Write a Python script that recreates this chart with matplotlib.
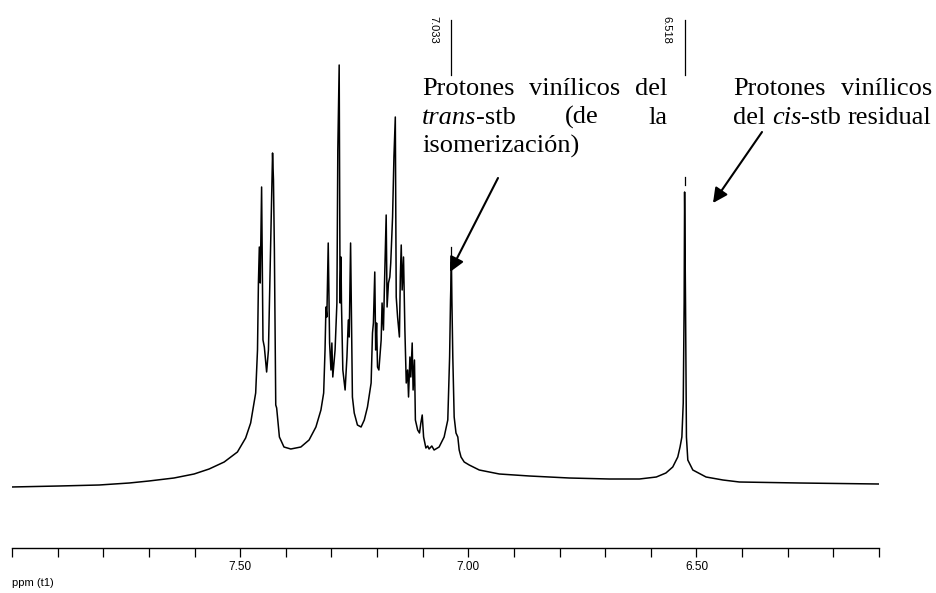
import matplotlib
matplotlib.use("Agg")
import matplotlib.pyplot as plt
from matplotlib.transforms import IdentityTransform

# 1H NMR trace: chemical shift (ppm) and intensity (a.u.)
ppm = [8.002, 7.897, 7.809, 7.743, 7.700, 7.645, 7.601, 7.568, 7.535, 7.506,
       7.488, 7.477, 7.466, 7.462, 7.460, 7.458, 7.456, 7.453, 7.450, 7.447,
       7.442, 7.438, 7.434, 7.429, 7.427, 7.425, 7.422, 7.420, 7.414, 7.404,
       7.389, 7.367, 7.349, 7.334, 7.323, 7.317, 7.314, 7.312, 7.310, 7.307,
       7.304, 7.301, 7.299, 7.297, 7.292, 7.288, 7.286, 7.283, 7.281, 7.279,
       7.278, 7.275, 7.270, 7.266, 7.263, 7.261, 7.258, 7.256, 7.254, 7.250,
       7.243, 7.235, 7.228, 7.221, 7.213, 7.210, 7.208, 7.205, 7.203, 7.201,
       7.199, 7.196, 7.191, 7.189, 7.186, 7.184, 7.180, 7.178, 7.175, 7.172,
       7.170, 7.166, 7.163, 7.160, 7.158, 7.155, 7.151, 7.149, 7.147, 7.145,
       7.142, 7.139, 7.136, 7.133, 7.131, 7.128, 7.126, 7.123, 7.121, 7.118,
       7.116, 7.111, 7.107, 7.104, 7.101, 7.098, 7.093, 7.089, 7.086, 7.080,
       7.075, 7.064, 7.053, 7.045, 7.041, 7.039, 7.037, 7.036, 7.034, 7.031,
       7.027, 7.023, 7.020, 7.016, 7.009, 6.998, 6.976, 6.932, 6.866, 6.779,
       6.691, 6.625, 6.588, 6.567, 6.552, 6.541, 6.536, 6.532, 6.529, 6.527,
       6.526, 6.524, 6.522, 6.519, 6.508, 6.479, 6.442, 6.406, 6.274, 6.101]
intensity = [0, 1, 2, 4, 6, 9, 13, 18, 25, 35,
             49, 64, 94, 137, 204, 240, 204, 300, 147, 140,
             115, 137, 224, 334, 307, 237, 82, 79, 50, 40,
             38, 40, 47, 60, 77, 94, 137, 180, 170, 244,
             144, 117, 144, 110, 137, 184, 337, 422, 184, 230,
             184, 117, 97, 130, 167, 150, 244, 164, 90, 74,
             62, 60, 67, 80, 104, 154, 164, 215, 137, 164,
             120, 117, 147, 184, 157, 197, 272, 180, 204, 210,
             224, 270, 330, 370, 190, 170, 150, 210, 242, 197,
             230, 157, 104, 117, 90, 130, 110, 144, 97, 127,
             67, 57, 54, 64, 72, 50, 39, 41, 38, 41,
             37, 40, 50, 67, 130, 187, 225, 187, 130, 70,
             54, 50, 37, 30, 25, 22, 17, 13, 11, 9,
             8, 8, 10, 14, 20, 30, 40, 50, 84, 184,
             295, 184, 50, 27, 17, 10, 7, 5, 4, 3]

# picked peaks
peak_labels = ["7.033", "6.518"]
peak_ppm = [7.037, 6.526]
peak_top = [225, 295]

major_ticks = [7.50, 7.00, 6.50]
minor_ticks = [8.0, 7.9, 7.8, 7.7, 7.6, 7.4, 7.3, 7.2, 7.1,
               6.9, 6.8, 6.7, 6.6, 6.4, 6.3, 6.2, 6.1]

W, H = 936, 593
SERIF = dict(family="Liberation Serif", size=19, color="black")


def draw_line(fig, words, x0, y, x1=None):
    """words: list of words, each a list of (text, fontstyle) pieces.
    Justified between x0 and x1 if x1 is given, else left aligned."""
    r = fig.canvas.get_renderer()
    tr = IdentityTransform()
    probe = fig.text(0, 0, "a a", transform=tr, **SERIF)
    probe2 = fig.text(0, 0, "aa", transform=tr, **SERIF)
    space = probe.get_window_extent(r).width - probe2.get_window_extent(r).width
    probe.remove()
    probe2.remove()
    texts, widths = [], []
    for word in words:
        ts = [fig.text(0, 0, s, fontstyle=st, transform=tr, va="baseline", **SERIF)
              for s, st in word]
        texts.append(ts)
        widths.append([t.get_window_extent(r).width for t in ts])
    total = sum(sum(w) for w in widths)
    if x1 is not None and len(words) > 1:
        gap = (x1 - x0 - total) / (len(words) - 1)
    else:
        gap = space
    x = x0
    for ts, ws in zip(texts, widths):
        for t, w in zip(ts, ws):
            t.set_position((x, H - y))
            x += w
        x += gap


fig = plt.figure(figsize=(W / 100, H / 100), dpi=100)
ax = fig.add_axes([12 / W, 45 / H, 867 / W, 548 / H])
ax.plot(ppm, intensity, color="black", lw=1.1)
ax.set_xlim(8.0, 6.1)
ax.set_ylim(-61, 487)
for s in ["top", "left", "right"]:
    ax.spines[s].set_visible(False)
ax.spines["bottom"].set_linewidth(1.0)
ax.set_yticks([])
ax.set_xticks(major_ticks)
ax.set_xticklabels([f"{t:.2f}" for t in major_ticks])
ax.set_xticks(minor_ticks, minor=True)
ax.tick_params(axis="x", which="both", direction="out", length=6.5, width=0.9,
               labelsize=8.5, pad=3)
for lab in ax.get_xticklabels():
    lab.set_family("Liberation Sans")
fig.text(12 / W, 1 - 583 / H, "ppm (t1)", family="Liberation Sans", size=8,
         va="center", ha="left")

# peak-pick markers and labels
for lab, p, top in zip(peak_labels, peak_ppm, peak_top):
    ax.plot([p, p], [412, 467], color="black", lw=0.9)
    ax.plot([p, p], [top + 7, top + 15], color="black", lw=0.9)
    ax.text(p + 0.040, 457, lab, rotation=270, ha="center", va="center",
            family="Liberation Sans", size=8)

# annotations
draw_line(fig, [[("Protones", "normal")], [("vinílicos", "normal")], [("del", "normal")]],
          422, 95, 667)
draw_line(fig, [[("trans", "italic"), ("-stb", "normal")], [("(de", "normal")],
                [("la", "normal")]], 422, 124, 667)
draw_line(fig, [[("isomerización)", "normal")]], 422, 153)
draw_line(fig, [[("Protones", "normal")], [("vinílicos", "normal")]], 733, 95, 932)
draw_line(fig, [[("del", "normal")], [("cis", "italic"), ("-stb", "normal")],
                [("residual", "normal")]], 733, 124)

arrow = dict(arrowstyle="-|>", color="black", lw=1.5, mutation_scale=22,
             shrinkA=0, shrinkB=0)
ax.annotate("", xy=(450, H - 272), xytext=(498, H - 178),
            xycoords="figure pixels", textcoords="figure pixels", arrowprops=arrow)
ax.annotate("", xy=(713, H - 203), xytext=(762, H - 132),
            xycoords="figure pixels", textcoords="figure pixels", arrowprops=arrow)

fig.savefig("out.png", dpi=100)
